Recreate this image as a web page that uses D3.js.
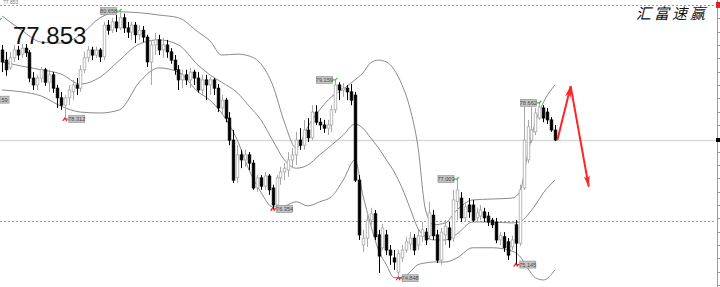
<!DOCTYPE html>
<html>
<head>
<meta charset="utf-8">
<script src="https://cdn.jsdelivr.net/npm/d3@7"></script>
<style>
  html, body { margin: 0; padding: 0; background: #fff; }
  svg { display: block; }
</style>
</head>
<body>
<svg id="chart" width="720" height="287"></svg>
<script>
// Data (prices)
var opens = [79.81,79.59,79.42,79.64,79.81,79.72,79.85,79.75,79.20,79.05,79.20,79.38,79.11,79.27,78.98,78.77,78.61,78.77,78.90,79.05,
  78.98,79.38,79.64,79.81,79.70,79.81,79.66,80.35,80.24,80.42,80.29,80.51,80.29,80.20,80.35,80.14,80.24,80.09,79.55,79.92,
  80.03,79.81,79.92,79.77,79.59,79.38,79.16,79.27,79.16,79.33,79.20,78.94,79.16,79.05,79.16,78.98,78.55,78.72,78.33,77.85,
  77.03,77.53,77.42,77.53,77.35,76.81,77.03,76.85,77.07,76.81,76.44,77.03,77.16,77.20,77.42,77.53,77.85,77.74,78.07,77.90,
  78.46,78.24,78.18,78.11,78.18,78.51,79.05,78.94,78.98,78.90,78.83,76.98,75.57,75.72,76.11,76.25,75.79,75.51,75.79,75.46,
  75.29,74.98,75.29,75.46,75.59,75.72,75.57,75.75,75.85,75.77,76.22,75.79,75.24,75.79,75.94,75.72,76.51,76.59,76.16,76.44,
  76.44,76.16,76.20,76.29,76.20,76.11,76.07,75.68,75.75,75.64,75.53,76.01,75.61,76.81,77.42,77.85,78.03,78.33,78.55,78.46,
  78.29,78.07];
var highs = [79.92,79.77,79.77,79.92,79.90,79.94,79.94,79.81,79.33,79.27,79.44,79.42,79.38,79.33,79.05,78.90,78.83,79.05,79.16,79.20,
  79.48,79.77,79.90,79.88,79.88,79.85,80.42,80.46,80.51,80.57,80.658,80.60,80.42,80.42,80.42,80.35,80.33,80.14,80.03,80.18,
  80.14,80.07,80.03,79.85,79.70,79.48,79.38,79.38,79.42,79.38,79.33,79.27,79.27,79.22,79.20,79.07,78.83,78.77,78.46,78.07,
  77.74,77.64,77.64,77.59,77.42,77.09,77.09,77.16,77.11,76.88,77.09,77.27,77.35,77.59,77.68,78.03,78.11,78.29,78.33,78.61,
  78.61,78.33,78.29,78.29,78.61,79.159,79.11,79.09,79.05,79.07,78.90,77.09,75.90,76.27,76.38,76.33,75.90,76.03,75.90,75.57,
  75.46,75.46,75.57,75.75,75.85,75.81,75.90,76.07,75.94,76.51,76.33,75.90,75.94,76.11,76.07,76.77,77.003,76.72,76.51,76.59,
  76.55,76.38,76.44,76.38,76.29,76.16,76.16,75.85,75.85,75.72,75.77,76.11,76.88,78.57,78.29,78.57,78.55,78.662,78.61,78.55,
  78.35,78.18];
var lows = [79.33,79.25,79.38,79.55,79.59,79.64,79.66,79.11,78.94,78.94,79.11,79.03,78.90,78.88,78.55,78.51,78.31,78.61,78.72,78.83,
  78.90,79.31,79.55,79.59,79.64,79.55,79.59,80.14,80.18,80.20,80.24,80.18,80.07,80.03,79.96,80.03,79.98,79.44,79.05,79.70,
  79.70,79.64,79.64,79.51,79.27,78.94,78.98,79.05,78.98,79.05,78.88,78.83,78.72,78.83,78.83,78.46,78.40,78.24,77.74,76.92,
  76.92,77.24,77.27,77.20,76.77,76.72,76.77,76.77,76.66,76.354,76.36,76.88,76.98,77.05,77.24,77.31,77.64,77.64,77.81,77.85,
  78.18,78.07,78.01,77.96,78.03,78.44,78.72,78.79,78.72,78.61,76.94,75.68,75.42,75.53,76.01,75.68,74.96,75.46,75.35,75.14,
  75.03,74.848,75.20,75.40,75.46,75.35,75.46,75.64,75.57,75.68,75.68,75.18,75.14,75.57,75.51,75.64,76.11,76.07,76.07,76.16,
  76.07,76.07,76.11,76.07,75.98,75.94,75.61,75.57,75.42,75.24,75.46,75.145,75.55,76.77,77.35,77.79,77.96,78.29,78.24,78.20,
  78.03,77.83];
var closes = [79.55,79.38,79.64,79.81,79.70,79.85,79.75,79.20,79.05,79.20,79.38,79.11,79.27,78.98,78.77,78.61,78.77,78.94,79.05,78.98,
  79.38,79.64,79.81,79.70,79.81,79.66,80.35,80.24,80.42,80.29,80.51,80.29,80.20,80.35,80.14,80.24,80.09,79.55,79.92,80.03,
  79.81,79.92,79.77,79.59,79.38,79.16,79.27,79.16,79.33,79.20,78.94,79.16,79.05,79.16,78.98,78.55,78.72,78.33,77.85,76.98,
  77.53,77.42,77.53,77.35,76.81,77.03,76.85,77.07,76.77,76.44,77.03,77.16,77.24,77.42,77.53,77.85,77.74,78.07,77.90,78.46,
  78.24,78.18,78.11,78.18,78.51,79.05,78.94,78.98,78.90,78.72,76.98,75.79,75.72,76.11,76.25,75.75,75.33,75.94,75.46,75.35,
  75.20,75.38,75.46,75.64,75.72,75.46,75.77,75.90,75.68,76.27,75.77,75.24,75.85,75.98,75.68,76.55,76.77,76.16,76.40,76.29,
  76.11,76.27,76.33,76.16,76.07,76.01,75.68,75.77,75.51,75.35,75.68,75.61,76.77,77.85,78.14,78.07,78.44,78.57,78.33,78.29,
  78.07,77.853];

// Bollinger bands, sampled at these bar indexes
var bandIdx = [0,5,10,15,20,25,30,35,40,45,50,53,56,60,63,66,69,72,75,78,81,84,87,90,92,94,96,98,100,102,104,106,108,110,113,116,120,125,130,132,134,136,138,141];
var upperBand = [80.55,80.24,79.98,79.96,80.14,80.51,80.64,80.62,80.57,80.51,80.20,80.01,79.70,79.72,79.68,79.51,79.05,78.24,77.68,78.14,78.51,78.79,78.96,79.16,79.31,79.53,79.59,79.55,79.38,79.05,78.55,77.74,76.33,76.01,76.05,76.33,76.55,76.57,76.59,76.72,77.53,78.24,78.66,79.05];
var middleBand = [79.55,79.46,79.38,79.29,79.07,79.22,79.59,79.94,80.03,79.92,79.48,79.27,79.11,78.88,78.59,78.29,77.85,77.42,77.24,77.31,77.53,77.74,77.96,78.20,78.11,77.90,77.68,77.42,77.16,76.81,76.38,75.94,75.75,75.68,75.68,75.81,76.07,76.07,76.05,76.07,76.22,76.44,76.70,76.98];
var lowerBand = [78.94,78.90,78.81,78.59,78.46,78.44,78.51,79.11,79.42,79.33,78.90,78.72,78.44,77.85,77.20,76.72,76.40,76.42,76.51,76.42,76.51,76.62,76.98,77.42,76.66,76.01,75.46,75.14,74.86,74.86,74.98,75.14,75.18,75.20,75.20,75.29,75.51,75.51,75.44,75.33,75.07,74.86,74.81,75.03];

// swing high / low labels (the first two belong to bars left of the window)
var markIdx = [-0.6, -3.3, 16, 30, 69, 85, 101, 116, 131, 137];
var markPrice = [80.46, 78.73, 78.31, 80.658, 76.354, 79.159, 74.848, 77.003, 75.145, 78.662];
var markText = ["", "59", "78.312", "80.658", "76.354", "79.159", "74.848", "77.003", "75.145", "78.662"];
var markType = ["high", "low", "low", "high", "low", "high", "low", "high", "low", "high"];

var levelLines = [80.79, 76.09];
var lastPrice = 77.853;

// forecast arrows (bar index, price)
var arrowIdx = [141.6, 145, 149.6];
var arrowPrice = [77.853, 79.02, 76.84];

// Global Variables
var width = 720, height = 287;
var svg = d3.select("#chart");
var x = d3.scaleLinear().domain([0, 141]).range([2, 555]);
var y = d3.scaleLinear().domain([74.657, 80.897]).range([height, 0]);

init();

function init(){
    drawLevels();
    drawBands();
    drawCandles();
    drawMarks();
    drawArrows();
    drawAxis();
    drawTexts();
}

function drawLevels(){
    svg.selectAll("line.level").data(levelLines).enter().append("line")
        .attr("class", "level")
        .attr("x1", 0).attr("x2", 716)
        .attr("y1", function(d){ return Math.round(y(d)) + 0.5; })
        .attr("y2", function(d){ return Math.round(y(d)) + 0.5; })
        .attr("stroke", "#f07a7a")
        .attr("stroke-width", 1)
        .attr("stroke-dasharray", "2,2");
    svg.append("line")
        .attr("x1", 0).attr("x2", 716)
        .attr("y1", Math.round(y(lastPrice)) + 0.5)
        .attr("y2", Math.round(y(lastPrice)) + 0.5)
        .attr("stroke", "#d9d9d9")
        .attr("stroke-width", 1.5);
}

function drawBands(){
    [upperBand, middleBand, lowerBand].forEach(function(band){
        var line = d3.line()
            .x(function(d, i){ return x(bandIdx[i]); })
            .y(function(d){ return y(d); })
            .curve(d3.curveMonotoneX);
        svg.append("path")
            .attr("d", line(band))
            .attr("fill", "none")
            .attr("stroke", "#8a8a8a")
            .attr("stroke-width", 1);
    });
}

function drawCandles(){
    var idx = d3.range(opens.length);
    var g = svg.append("g");
    var bodyW = 2.6;
    idx.forEach(function(i){
        var up = closes[i] >= opens[i];
        var cx = Math.round(x(i)) + 0.5;
        g.append("line")
            .attr("x1", cx).attr("x2", cx)
            .attr("y1", y(highs[i])).attr("y2", y(lows[i]))
            .attr("stroke", up ? "#a8a8a8" : "#000")
            .attr("stroke-width", 1);
        var top = y(Math.max(opens[i], closes[i]));
        var bot = y(Math.min(opens[i], closes[i]));
        g.append("rect")
            .attr("x", cx - bodyW / 2)
            .attr("y", top)
            .attr("width", bodyW)
            .attr("height", Math.max(bot - top, 1))
            .attr("fill", up ? "#fff" : "#000")
            .attr("stroke", up ? "#a8a8a8" : "#000")
            .attr("stroke-width", 0.8);
    });
}

function drawMarks(){
    markIdx.forEach(function(d, k){
        var mx = x(d), my = y(markPrice[k]);
        var isHigh = markType[k] == "high";
        var col = isHigh ? "#22cc22" : "#ee2222";
        // small tick mark
        if (isHigh){
            svg.append("path")
                .attr("d", "M" + (mx - 3) + "," + my + "L" + mx + "," + my + "L" + (mx + 2) + "," + (my - 2))
                .attr("fill", "none").attr("stroke", col).attr("stroke-width", 1.2);
        } else {
            svg.append("path")
                .attr("d", "M" + (mx - 2) + "," + (my + 2) + "L" + mx + "," + (my - 1) + "L" + (mx + 2) + "," + (my + 2) + "M" + mx + "," + my + "L" + (mx + 4) + "," + my)
                .attr("fill", "none").attr("stroke", col).attr("stroke-width", 1.2);
        }
        var bw = 16, bh = 7;
        var bx = isHigh ? mx - 3 - bw : mx + 4;
        if (bx < 0){
            // only the tail of the label is inside the window
            bw = bw + bx;
            bx = 0;
        }
        if (bw < 3 || markText[k] == "") return;
        svg.append("rect")
            .attr("x", bx).attr("y", my - bh / 2)
            .attr("width", bw).attr("height", bh)
            .attr("fill", "#c4c4c4")
            .attr("stroke", "#8c8c8c")
            .attr("stroke-width", 0.6);
        svg.append("text")
            .attr("x", bx + bw / 2).attr("y", my + 2)
            .attr("text-anchor", "middle")
            .attr("font-family", "Liberation Sans, Arial, sans-serif")
            .attr("font-size", "5.6px")
            .attr("fill", "#4a4a4a")
            .text(markText[k]);
    });
}

function drawArrows(){
    var defs = svg.append("defs");
    defs.append("marker")
        .attr("id", "head")
        .attr("viewBox", "0 0 12 6")
        .attr("refX", 11).attr("refY", 3)
        .attr("markerWidth", 12).attr("markerHeight", 6)
        .attr("markerUnits", "userSpaceOnUse")
        .attr("orient", "auto")
        .append("path")
        .attr("d", "M0,0L12,3L0,6L3,3Z")
        .attr("fill", "#ff2424");
    for (var k = 0; k < arrowIdx.length - 1; k++){
        svg.append("line")
            .attr("x1", x(arrowIdx[k])).attr("y1", y(arrowPrice[k]))
            .attr("x2", x(arrowIdx[k + 1])).attr("y2", y(arrowPrice[k + 1]))
            .attr("stroke", "#ff2424")
            .attr("stroke-width", 2)
            .attr("marker-end", "url(#head)");
    }
}

function drawAxis(){
    var ax = svg.append("g").attr("transform", "translate(717,0)");
    var ticks = d3.range(74.7, 80.9, 0.29);
    ax.append("line").attr("x1", 0.5).attr("x2", 0.5).attr("y1", 0).attr("y2", height)
        .attr("stroke", "#9a9a9a");
    ax.selectAll("line.t").data(ticks).enter().append("line")
        .attr("class", "t")
        .attr("x1", 0).attr("x2", 3)
        .attr("y1", function(d){ return Math.round(y(d)) + 0.5; })
        .attr("y2", function(d){ return Math.round(y(d)) + 0.5; })
        .attr("stroke", "#9a9a9a");
    ax.append("rect").attr("x", -1).attr("y", y(levelLines[0]) - 3).attr("width", 4).attr("height", 6).attr("fill", "#e02020");
    ax.append("rect").attr("x", -1).attr("y", y(lastPrice) - 2).attr("width", 4).attr("height", 4).attr("fill", "#000");
}

function drawTexts(){
    svg.append("text")
        .attr("x", 3).attr("y", 4)
        .attr("font-family", "Liberation Sans, Arial, sans-serif")
        .attr("font-size", "5px")
        .attr("fill", "#777")
        .text("77.853");
    svg.append("text")
        .attr("x", 13).attr("y", 44)
        .attr("font-family", "Liberation Sans, Arial, sans-serif")
        .attr("font-size", "24px")
        .attr("fill", "#111")
        .text(lastPrice.toFixed(3));
    svg.append("text")
        .attr("x", 636).attr("y", 19)
        .attr("font-family", "Noto Sans CJK SC, sans-serif")
        .attr("font-size", "15px")
        .attr("font-style", "italic")
        .attr("letter-spacing", "3px")
        .attr("fill", "#111")
        .text("汇富速赢");
}
</script>
</body>
</html>
